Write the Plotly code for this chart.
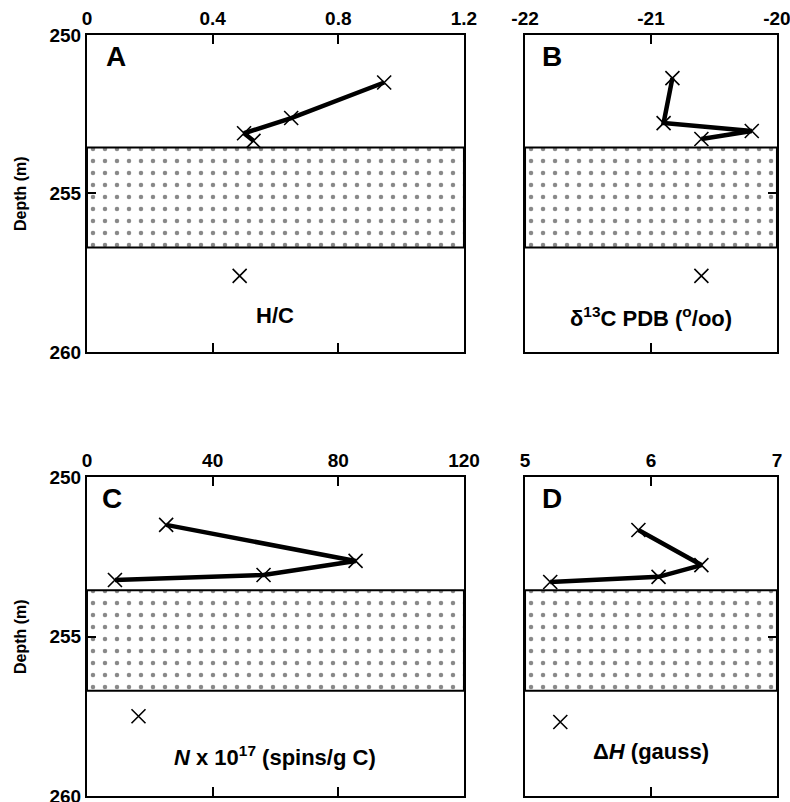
import plotly.graph_objects as go

# ---- data ----
depth_A = [251.5, 252.62, 253.1, 253.34, 257.6]
hc_ratio = [0.946, 0.65, 0.50, 0.53, 0.486]

depth_B = [251.36, 252.78, 253.03, 253.28, 257.6]
d13c_pdb = [-20.83, -20.90, -20.20, -20.60, -20.60]

depth_C = [251.5, 252.63, 253.07, 253.23, 257.5]
spins_n = [25.2, 85.5, 56.2, 8.9, 16.4]

depth_D = [251.66, 252.76, 253.13, 253.29, 257.68]
delta_h = [5.90, 6.40, 6.06, 5.20, 5.28]

depth_ticks = [250, 255, 260]
band_top = 253.55
band_bottom = 256.7

panels = [
    dict(key="", letter="A", x=hc_ratio, y=depth_A, rng=[0, 1.2],
         tickvals=[0, 0.4, 0.8, 1.2], ticktext=["0", "0.4", "0.8", "1.2"],
         title="<b>H/C</b>", title_y=0.114, letter_x=0.077),
    dict(key="2", letter="B", x=d13c_pdb, y=depth_B, rng=[-22, -20],
         tickvals=[-22, -21, -20], ticktext=["-22", "-21", "-20"],
         title="<b>δ<sup>13</sup>C PDB (<sup>o</sup>/oo)</b>", title_y=0.11, letter_x=0.107),
    dict(key="3", letter="C", x=spins_n, y=depth_C, rng=[0, 120],
         tickvals=[0, 40, 80, 120], ticktext=["0", "40", "80", "120"],
         title="<b><i>N</i> x 10<sup>17</sup> (spins/g C)</b>", title_y=0.125, letter_x=0.066),
    dict(key="4", letter="D", x=delta_h, y=depth_D, rng=[5, 7],
         tickvals=[5, 6, 7], ticktext=["5", "6", "7"],
         title="<b>Δ<i>H</i> (gauss)</b>", title_y=0.14, letter_x=0.107),
]

xdom = {"": [0.1101, 0.5873], "2": [0.6646, 0.9835], "3": [0.1101, 0.5873], "4": [0.6646, 0.9835]}
ydom = {"": [0.5611, 0.9564], "2": [0.5611, 0.9564], "3": [0.0075, 0.4052], "4": [0.0075, 0.4052]}

FONT = "Liberation Sans, Arial, sans-serif"
fig = go.Figure()
layout = dict(width=790, height=802, margin=dict(l=0, r=0, t=0, b=0),
              paper_bgcolor="white", plot_bgcolor="white", showlegend=False,
              font=dict(family=FONT, color="black"))
annotations = []

for p in panels:
    k = p["key"]
    xa, ya = "x" + k, "y" + k
    lo, hi = p["rng"]
    # stippled band
    fig.add_trace(go.Scatter(
        x=[lo, hi, hi, lo, lo], y=[band_top, band_top, band_bottom, band_bottom, band_top],
        xaxis=xa, yaxis=ya, mode="lines", fill="toself", fillcolor="white",
        fillpattern=dict(shape=".", size=12, solidity=0.11, fgcolor="#111111", bgcolor="white"),
        line=dict(color="black", width=2), hoverinfo="skip"))
    # connected upper samples
    fig.add_trace(go.Scatter(
        x=p["x"][:4], y=p["y"][:4], xaxis=xa, yaxis=ya, mode="lines",
        line=dict(color="black", width=4.5)))
    # all sample markers
    fig.add_trace(go.Scatter(
        x=p["x"], y=p["y"], xaxis=xa, yaxis=ya, mode="markers",
        marker=dict(symbol="x-thin-open", size=14, color="black",
                    line=dict(color="black", width=1.6))))

    left_col = k in ("", "3")
    layout["xaxis" + k] = dict(
        domain=xdom[k], anchor=ya, range=p["rng"], side="top",
        tickvals=p["tickvals"], ticktext=["<b>%s</b>" % t for t in p["ticktext"]],
        ticks="inside", ticklen=9, ticklabeloverflow="allow",
        tickwidth=2, tickcolor="black", showline=True, linecolor="black", linewidth=2,
        mirror="ticks", showgrid=False, zeroline=False, automargin=False,
        tickfont=dict(family=FONT, size=19, color="black"))
    layout["yaxis" + k] = dict(
        domain=ydom[k], anchor=xa, range=[260, 250], side="left" if left_col else "right",
        tickvals=depth_ticks if left_col else [255],
        ticktext=["<b>%d</b>" % t for t in depth_ticks] if left_col else [""],
        showticklabels=left_col, ticks="inside", ticklen=9, ticklabeloverflow="allow",
        tickwidth=2, tickcolor="black",
        showline=True, linecolor="black", linewidth=2, mirror=True,
        showgrid=False, zeroline=False, automargin=False,
        tickfont=dict(family=FONT, size=19, color="black"))

    annotations.append(dict(text="<b>%s</b>" % p["letter"], xref=xa + " domain", yref=ya + " domain",
                            x=p["letter_x"], y=0.932, xanchor="center", yanchor="middle",
                            showarrow=False, font=dict(family=FONT, size=28, color="black")))
    annotations.append(dict(text=p["title"], xref=xa + " domain", yref=ya + " domain",
                            x=0.5, y=p["title_y"], xanchor="center", yanchor="middle",
                            showarrow=False, font=dict(family=FONT, size=22, color="black")))
    if left_col:
        annotations.append(dict(text="<b>Depth (m)</b>", xref="paper", yref=ya + " domain",
                                x=0.026, y=0.5, xanchor="center", yanchor="middle",
                                textangle=-90, showarrow=False,
                                font=dict(family=FONT, size=16, color="black")))

layout["annotations"] = annotations
fig.update_layout(**layout)
fig.write_html("out.html")
